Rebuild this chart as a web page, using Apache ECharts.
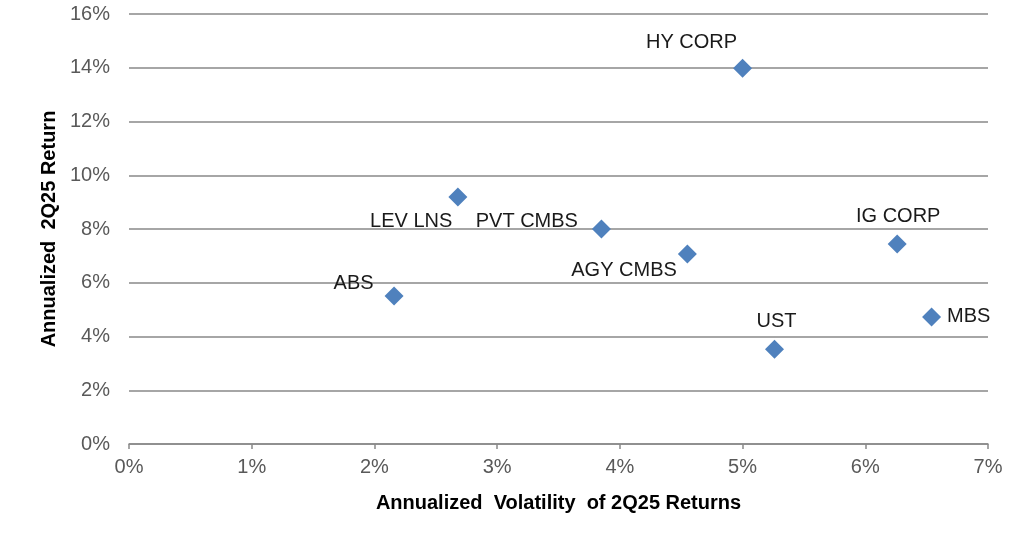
<!DOCTYPE html>
<html><head><meta charset="utf-8">
<script src="https://cdn.jsdelivr.net/npm/echarts@6/dist/echarts.min.js"></script>
<style>html,body{margin:0;padding:0;background:#fff}#c{width:1024px;height:551px}</style>
</head><body><div id="c"></div>
<script>
const names = ['HY CORP','LEV LNS','PVT CMBS','AGY CMBS','IG CORP','ABS','UST','MBS'];
const volatility = [5.00, 2.68, 3.85, 4.55, 6.26, 2.16, 5.26, 6.54];
const returns = [13.98, 9.19, 8.00, 7.07, 7.44, 5.51, 3.53, 4.73];
const xTicks = [0,1,2,3,4,5,6,7];
const yTicks = [0,2,4,6,8,10,12,14,16];
const labelPlace = {
  'HY CORP': {position:'top', offset:[-51,0]},
  'LEV LNS': {position:'left', offset:[10,24]},
  'PVT CMBS': {position:'left', offset:[-8,-8]},
  'AGY CMBS': {position:'left', offset:[5,16]},
  'IG CORP': {position:'top', offset:[1,-2]},
  'ABS': {position:'left', offset:[-5,-12]},
  'UST': {position:'top', offset:[2,-2]},
  'MBS': {position:'right', offset:[0,0]}
};
const data = names.map((n,i)=>({
  value:[volatility[i], returns[i]], name:n,
  label:Object.assign({show:true, formatter:n, distance:6}, labelPlace[n])
}));
const chart = echarts.init(document.getElementById('c'));
chart.setOption({
  animation:false,
  grid:{left:129, right:36, top:14, bottom:107},
  textStyle:{fontFamily:'Liberation Sans, Arial, sans-serif'},
  xAxis:{type:'value', min:xTicks[0], max:xTicks[xTicks.length-1], interval:1,
    name:'Annualized  Volatility  of 2Q25 Returns', nameLocation:'middle', nameGap:49,
    nameTextStyle:{fontWeight:'bold', fontSize:20, color:'#000'},
    axisLine:{show:true, lineStyle:{color:'#898989', width:1.5}},
    axisTick:{show:true, length:5, lineStyle:{color:'#898989', width:1.5}},
    axisLabel:{formatter:v=>v+'%', fontSize:20, color:'#595959', margin:13},
    splitLine:{show:false}},
  yAxis:{type:'value', min:yTicks[0], max:yTicks[yTicks.length-1], interval:2,
    name:'Annualized  2Q25 Return', nameLocation:'middle', nameGap:69,
    nameTextStyle:{fontWeight:'bold', fontSize:20, color:'#000'},
    axisLine:{show:false}, axisTick:{show:false},
    axisLabel:{formatter:v=>v+'%', fontSize:20, color:'#595959', margin:19},
    splitLine:{show:true, lineStyle:{color:'#898989', width:1.5}}},
  series:[{type:'scatter', symbol:'diamond', symbolSize:19,
    itemStyle:{color:'#4f81bd', opacity:1},
    label:{fontSize:20, color:'#1a1a1a'},
    data:data}]
});
</script></body></html>
